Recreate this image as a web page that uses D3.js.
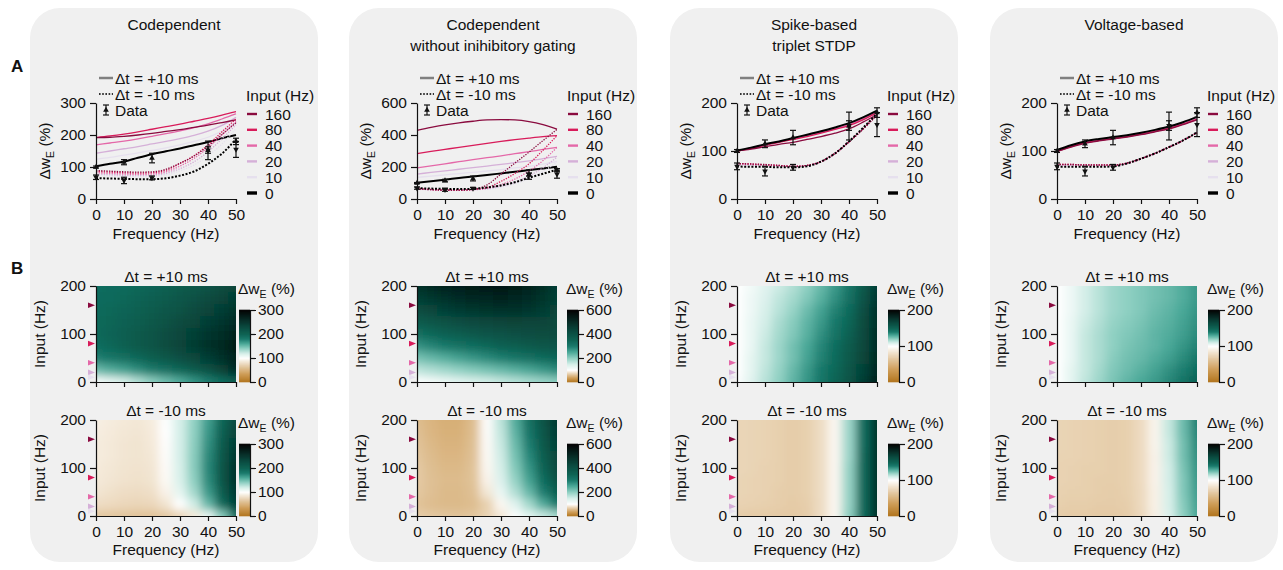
<!DOCTYPE html>
<html>
<head>
<meta charset="utf-8">
<script src="https://cdn.jsdelivr.net/npm/d3@7/dist/d3.min.js"></script>
<style>
  body { margin: 0; background: #fff; }
  svg text { font-family: "Liberation Sans", Arial, Helvetica, sans-serif; font-size: 15.5px; fill: #111; }
  .axis path, .axis line { stroke: #111; stroke-width: 1.2; }
</style>
</head>
<body>
<svg id="fig"></svg>
<script>
// x samples of every curve / heatmap column (Hz)
const freqs = [0, 5, 10, 15, 20, 25, 30, 35, 40, 45, 50];
// input rate of each curve row, legend order
const inputLevels = [160, 80, 40, 20, 10, 0];
// input rate of each heatmap row (bottom to top)
const heatInputs = [0, 25, 50, 75, 100, 125, 150, 175, 200];

// experimental data (same in every panel)
const dataFreqs = [0, 10, 20, 40, 50];
const dataPlus = [100, 115, 128, 152, 180];
const dataPlusErr = [3, 8, 15, 29, 10];
const dataMinus = [68, 58, 66, 153, 155];
const dataMinusErr = [7, 10, 6, 10, 25];

const panelTitles = [["Codependent"], ["Codependent", "without inihibitory gating"], ["Spike-based", "triplet STDP"], ["Voltage-based"]];
const yTicksA = [[0, 100, 200, 300], [0, 200, 400, 600], [0, 100, 200], [0, 100, 200]];
const cbarTicks = [[0, 100, 200, 300], [0, 200, 400, 600], [0, 100, 200], [0, 100, 200]];

// --- panel A curves, rows follow inputLevels ---
const codepPlus = [
  [192, 193, 196, 200, 205, 211, 217, 224, 231, 239, 247],
  [192, 197, 203, 210, 218, 226, 234, 243, 252, 262, 273],
  [169, 175, 181, 188, 196, 204, 213, 223, 235, 250, 266],
  [143, 150, 157, 164, 172, 180, 189, 199, 212, 230, 255],
  [124, 130, 137, 144, 152, 160, 169, 180, 193, 212, 240],
  [102, 110, 117, 129, 140, 149, 158, 168, 178, 190, 200]];
const codepMinus = [
  [89, 87, 85, 84, 85, 93, 112, 134, 165, 202, 238],
  [86, 84, 82, 81, 82, 90, 111, 135, 169, 210, 250],
  [82, 80, 78, 77, 78, 85, 103, 127, 160, 200, 242],
  [78, 76, 74, 73, 74, 80, 95, 116, 148, 188, 232],
  [74, 72, 70, 69, 70, 75, 88, 106, 135, 172, 220],
  [65, 64, 63, 62, 62, 65, 73, 86, 110, 142, 187]];
const noGatePlus = [
  [429, 447, 463, 476, 486, 494, 496, 494, 484, 465, 437],
  [283, 297, 310, 323, 335, 348, 360, 371, 381, 390, 396],
  [194, 207, 220, 233, 246, 258, 270, 283, 296, 310, 323],
  [156, 166, 176, 186, 196, 206, 216, 227, 238, 252, 267],
  [135, 143, 151, 159, 167, 175, 184, 194, 204, 218, 235],
  [101, 111, 121, 131, 141, 150, 160, 170, 181, 191, 202]];
const noGateMinus = [
  [64, 58, 54, 54, 60, 88, 156, 225, 293, 365, 435],
  [66, 60, 57, 57, 60, 72, 110, 160, 220, 305, 396],
  [64, 59, 56, 56, 59, 67, 90, 125, 175, 240, 323],
  [62, 58, 56, 56, 58, 64, 80, 105, 145, 195, 262],
  [60, 57, 55, 55, 57, 62, 74, 95, 128, 172, 230],
  [68, 65, 63, 62, 64, 72, 85, 105, 133, 158, 183]];
const tripletPlus = [
  [100, 104, 109, 114, 118, 124, 130, 137, 146, 160, 176],
  [100, 105, 112, 118, 124, 130, 137, 145, 153, 165, 180],
  [100, 106, 113, 119, 125, 132, 139, 146, 155, 167, 181],
  [100, 106, 113, 119, 126, 133, 140, 147, 156, 168, 182],
  [101, 107, 113, 120, 126, 133, 140, 148, 157, 169, 183],
  [101, 107, 114, 120, 127, 134, 141, 149, 158, 170, 184]];
const tripletMinus = [
  [74, 73, 72, 70, 68, 70, 78, 95, 119, 145, 175],
  [74, 73, 71, 70, 68, 70, 78, 95, 119, 146, 176],
  [73, 72, 71, 69, 68, 70, 78, 95, 119, 146, 176],
  [72, 71, 70, 69, 67, 69, 78, 95, 120, 147, 177],
  [71, 70, 69, 68, 67, 69, 78, 95, 120, 147, 177],
  [68, 67, 67, 66, 66, 68, 78, 95, 120, 148, 178]];
const voltagePlus = [
  [99, 108, 116, 121, 125, 129, 134, 140, 146, 155, 165],
  [99, 109, 117, 122, 126, 130, 135, 141, 147, 156, 166],
  [100, 110, 117, 122, 127, 131, 136, 141, 148, 157, 167],
  [100, 110, 118, 123, 127, 131, 136, 142, 148, 158, 168],
  [101, 111, 118, 123, 128, 132, 137, 143, 149, 158, 169],
  [102, 112, 120, 125, 129, 133, 138, 144, 151, 160, 171]];
const voltageMinus = [
  [72, 72, 71, 71, 71, 75, 84, 95, 108, 122, 138],
  [72, 72, 71, 71, 71, 75, 84, 95, 108, 122, 138],
  [71, 71, 71, 70, 70, 74, 84, 95, 108, 122, 138],
  [70, 70, 70, 70, 70, 74, 84, 95, 108, 122, 139],
  [69, 69, 69, 69, 69, 74, 84, 95, 108, 122, 139],
  [67, 67, 67, 67, 68, 74, 84, 95, 108, 122, 139]];

// --- panel B heatmaps, rows follow heatInputs ---
const codepHeatPlus = [
  [102, 110, 117, 129, 140, 149, 158, 168, 178, 190, 200],
  [150, 157, 163, 171, 179, 187, 196, 206, 218, 235, 258],
  [177, 182, 188, 195, 203, 211, 220, 229, 240, 253, 268],
  [190, 195, 201, 208, 216, 224, 233, 242, 251, 261, 273],
  [193, 197, 202, 209, 216, 223, 231, 239, 248, 257, 268],
  [193, 196, 200, 205, 211, 218, 225, 232, 240, 249, 258],
  [192, 194, 197, 201, 206, 212, 218, 225, 233, 241, 250],
  [191, 192, 194, 198, 202, 207, 213, 219, 226, 233, 242],
  [190, 191, 192, 194, 197, 201, 206, 211, 217, 224, 232]];
const codepHeatMinus = [
  [65, 64, 63, 62, 62, 65, 73, 86, 110, 142, 187],
  [79, 77, 75, 74, 75, 83, 100, 121, 152, 192, 236],
  [84, 81, 79, 78, 80, 92, 112, 134, 166, 205, 245],
  [86, 84, 82, 81, 83, 96, 117, 140, 172, 212, 252],
  [87, 85, 83, 82, 84, 97, 118, 142, 174, 213, 252],
  [88, 86, 84, 83, 85, 98, 119, 142, 173, 210, 247],
  [88, 86, 84, 83, 86, 99, 119, 141, 170, 206, 241],
  [89, 87, 85, 84, 87, 100, 119, 140, 167, 200, 233],
  [90, 88, 86, 85, 88, 101, 119, 139, 164, 196, 226]];
const noGateHeatPlus = [
  [101, 111, 121, 131, 141, 150, 160, 170, 181, 191, 202],
  [166, 176, 187, 198, 208, 218, 229, 240, 252, 266, 281],
  [217, 230, 243, 256, 269, 281, 293, 305, 317, 330, 341],
  [272, 286, 299, 312, 325, 337, 349, 360, 371, 380, 387],
  [320, 335, 349, 362, 374, 385, 394, 401, 406, 410, 412],
  [365, 381, 395, 408, 419, 428, 434, 436, 435, 432, 426],
  [411, 428, 444, 457, 467, 475, 478, 477, 470, 456, 434],
  [447, 466, 482, 495, 505, 512, 514, 510, 498, 476, 446],
  [480, 500, 515, 527, 535, 540, 540, 533, 518, 490, 450]];
const noGateHeatMinus = [
  [68, 65, 63, 62, 64, 72, 85, 105, 133, 158, 183],
  [62, 58, 56, 56, 58, 70, 95, 135, 185, 245, 300],
  [65, 60, 56, 56, 60, 85, 125, 175, 230, 295, 360],
  [66, 60, 57, 57, 61, 92, 140, 195, 255, 325, 395],
  [66, 59, 55, 55, 61, 95, 148, 208, 270, 345, 415],
  [64, 57, 53, 53, 60, 96, 153, 218, 283, 358, 428],
  [62, 55, 51, 51, 59, 97, 158, 226, 295, 370, 440],
  [60, 53, 49, 49, 58, 98, 163, 236, 306, 380, 450],
  [58, 52, 48, 48, 57, 99, 168, 244, 316, 390, 460]];
const tripletHeatPlus = [
  [101, 107, 114, 120, 127, 134, 141, 149, 158, 170, 184],
  [100, 106, 113, 119, 126, 133, 140, 147, 156, 168, 182],
  [100, 106, 112, 118, 124, 131, 138, 146, 154, 166, 180],
  [100, 105, 112, 118, 124, 130, 137, 145, 153, 165, 179],
  [100, 105, 111, 117, 122, 128, 135, 142, 150, 163, 178],
  [100, 105, 110, 116, 121, 127, 133, 140, 148, 162, 177],
  [100, 104, 109, 114, 119, 125, 131, 138, 146, 160, 176],
  [100, 104, 108, 113, 117, 122, 128, 135, 143, 157, 173],
  [100, 103, 107, 111, 115, 120, 126, 133, 141, 154, 170]];
const tripletHeatMinus = [
  [68, 67, 67, 66, 66, 68, 78, 95, 120, 146, 176],
  [72, 71, 70, 69, 67, 69, 78, 95, 119, 146, 176],
  [73, 72, 71, 69, 68, 70, 78, 95, 119, 146, 176],
  [73, 72, 71, 70, 68, 70, 78, 95, 119, 146, 176],
  [74, 73, 71, 70, 68, 70, 78, 95, 119, 146, 176],
  [74, 73, 72, 70, 68, 70, 78, 95, 118, 146, 176],
  [74, 73, 72, 70, 68, 70, 78, 95, 118, 145, 175],
  [74, 73, 72, 70, 68, 70, 78, 95, 118, 145, 175],
  [74, 73, 72, 70, 68, 70, 78, 95, 118, 145, 175]];
const voltageHeatPlus = [
  [100, 106, 113, 118, 123, 127, 130, 133, 137, 142, 150],
  [100, 106, 112, 117, 122, 125, 128, 131, 135, 139, 145],
  [100, 105, 112, 116, 121, 124, 126, 129, 132, 136, 141],
  [100, 105, 112, 116, 120, 123, 125, 127, 130, 134, 138],
  [100, 105, 112, 116, 120, 122, 124, 127, 129, 132, 136],
  [100, 105, 111, 115, 119, 121, 123, 126, 128, 131, 135],
  [100, 104, 110, 114, 118, 120, 122, 125, 127, 130, 134],
  [100, 104, 110, 114, 118, 120, 122, 124, 126, 129, 133],
  [100, 104, 110, 114, 118, 120, 122, 124, 126, 129, 133]];
const voltageHeatMinus = [
  [68, 67, 67, 66, 66, 68, 75, 90, 108, 120, 130],
  [70, 69, 69, 68, 68, 69, 76, 91, 109, 121, 131],
  [71, 70, 70, 69, 68, 70, 76, 91, 109, 122, 132],
  [72, 71, 70, 69, 69, 70, 77, 92, 110, 122, 133],
  [72, 71, 70, 70, 69, 70, 77, 92, 110, 123, 134],
  [72, 72, 71, 70, 69, 70, 77, 92, 111, 124, 135],
  [73, 72, 71, 70, 69, 70, 77, 93, 111, 124, 136],
  [73, 72, 71, 70, 69, 70, 77, 93, 112, 125, 137],
  [73, 72, 71, 70, 69, 70, 77, 93, 112, 125, 138]];

// styles
const inputColors = ["#8a0b3f", "#d81b5a", "#e468a8", "#d5b0d8", "#e6e0ee", "#000000"];
const panelFill = "#f0f0f0";

const models = [
  {plus: codepPlus, minus: codepMinus, hp: codepHeatPlus, hm: codepHeatMinus},
  {plus: noGatePlus, minus: noGateMinus, hp: noGateHeatPlus, hm: noGateHeatMinus},
  {plus: tripletPlus, minus: tripletMinus, hp: tripletHeatPlus, hm: tripletHeatMinus},
  {plus: voltagePlus, minus: voltageMinus, hp: voltageHeatPlus, hm: voltageHeatMinus}
];

// layout
const W = 1283, H = 570;
const panelX = [30, 349, 670, 990];
const plotX = [96, 417, 737, 1057];
const cbarOff = [143, 150, 151, 151];
const plotW = 140, aTop = 103, aBot = 199;
const heatTops = [286, 420], heatH = 96;

const svg = d3.select("#fig").attr("width", W).attr("height", H);
const defs = svg.append("defs");
defs.append("filter").attr("id", "soft")
  .append("feGaussianBlur").attr("stdDeviation", "5 4.2");

function heatColor(max) {
  const lo = d3.scaleLinear().domain([0, 35, 60, 80, 100])
    .range(["#b0721a", "#cf9d57", "#dfc094", "#efdfc8", "#ffffff"]).clamp(true);
  const stops = [0, 0.1, 0.2, 0.3, 0.4, 0.5, 0.65, 0.8, 1];
  const hi = d3.scaleLinear().domain(stops.map(t => 100 + t * (max - 100)))
    .range(["#ffffff", "#d4eee8", "#8fd0c2", "#4aa898", "#17786a", "#0b6152", "#07483d", "#042a24", "#000000"])
    .clamp(true);
  return v => v <= 100 ? lo(v) : hi(v);
}

function dwLabel(t) {
  t.append("tspan").text("Δw");
  t.append("tspan").text("E").attr("font-size", "10.5px").attr("dy", 4);
  t.append("tspan").text(" (%)").attr("dy", -4);
}

function styleAxis(g) {
  g.attr("class", "axis").attr("font-size", null).attr("font-family", null);
}

// panel backgrounds and titles
panelX.forEach((px, i) => {
  svg.append("rect").attr("x", px).attr("y", 8).attr("width", 288).attr("height", 554)
    .attr("rx", 30).attr("fill", panelFill);
  panelTitles[i].forEach((t, k) => {
    svg.append("text").attr("x", px + 144).attr("y", 30 + k * 21)
      .attr("text-anchor", "middle").text(t);
  });
});

svg.append("text").attr("x", 11).attr("y", 72).attr("font-weight", "bold").style("font-size", "17px").text("A");
svg.append("text").attr("x", 11).attr("y", 274).attr("font-weight", "bold").style("font-size", "17px").text("B");

const drawOrder = [4, 3, 2, 1, 0, 5];

models.forEach((m, i) => {
  const x0 = plotX[i];
  const yMax = d3.max(yTicksA[i]);
  const x = d3.scaleLinear().domain([0, 50]).range([x0, x0 + plotW]);
  const y = d3.scaleLinear().domain([0, yMax]).range([aBot, aTop]);
  const g = svg.append("g");
  const line = d3.line().x((d, k) => x(freqs[k])).y(d => y(d)).curve(d3.curveMonotoneX);

  g.selectAll("path.plus").data(drawOrder).join("path").attr("class", "plus")
    .attr("d", r => line(m.plus[r])).attr("fill", "none")
    .attr("stroke", r => inputColors[r]).attr("stroke-width", r => r === 5 ? 2 : 1.3);
  g.selectAll("path.minus").data(drawOrder).join("path").attr("class", "minus")
    .attr("d", r => line(m.minus[r])).attr("fill", "none")
    .attr("stroke", r => inputColors[r]).attr("stroke-width", r => r === 5 ? 2 : 1.3)
    .attr("stroke-dasharray", r => r === 5 ? "2 1.6" : "1.3 1.3");

  // error bars
  [[dataPlus, dataPlusErr, 0], [dataMinus, dataMinusErr, 180]].forEach(([vals, errs, rot]) => {
    const eb = g.append("g").selectAll("g").data(dataFreqs).join("g")
      .attr("transform", (f, k) => `translate(${x(f)},0)`);
    eb.append("line").attr("y1", (f, k) => y(vals[k] - errs[k])).attr("y2", (f, k) => y(vals[k] + errs[k]))
      .attr("stroke", "#111").attr("stroke-width", 1.2);
    eb.append("line").attr("x1", -3).attr("x2", 3).attr("y1", (f, k) => y(vals[k] + errs[k])).attr("y2", (f, k) => y(vals[k] + errs[k]))
      .attr("stroke", "#111").attr("stroke-width", 1.2);
    eb.append("line").attr("x1", -3).attr("x2", 3).attr("y1", (f, k) => y(vals[k] - errs[k])).attr("y2", (f, k) => y(vals[k] - errs[k]))
      .attr("stroke", "#111").attr("stroke-width", 1.2);
    eb.append("path").attr("d", d3.symbol(d3.symbolTriangle, 14))
      .attr("transform", (f, k) => `translate(0,${y(vals[k])}) rotate(${rot})`).attr("fill", "#111");
  });

  // axes
  g.append("g").attr("transform", `translate(0,${aBot})`)
    .call(d3.axisBottom(x).tickValues([0, 10, 20, 30, 40, 50]).tickSize(5).tickPadding(5).tickSizeOuter(0))
    .call(styleAxis);
  g.append("g").attr("transform", `translate(${x0},0)`)
    .call(d3.axisLeft(y).tickValues(yTicksA[i]).tickSize(6).tickPadding(4).tickSizeOuter(0))
    .call(styleAxis);
  g.append("text").attr("x", x0 + 70).attr("y", 239).attr("text-anchor", "middle").text("Frequency (Hz)");
  g.append("text").attr("transform", `translate(${x0 - 46},151) rotate(-90)`)
    .attr("text-anchor", "middle").call(dwLabel);

  // dt legend
  const lg = g.append("g");
  lg.append("line").attr("x1", x0 + 3).attr("x2", x0 + 17).attr("y1", 78).attr("y2", 78)
    .attr("stroke", "#808080").attr("stroke-width", 2.5);
  lg.append("text").attr("x", x0 + 19).attr("y", 84).text("Δt = +10 ms");
  lg.append("line").attr("x1", x0 + 3).attr("x2", x0 + 17).attr("y1", 94).attr("y2", 94)
    .attr("stroke", "#333").attr("stroke-width", 2).attr("stroke-dasharray", "1.6 1.6");
  lg.append("text").attr("x", x0 + 19).attr("y", 99.5).text("Δt = -10 ms");
  lg.append("line").attr("x1", x0 + 10).attr("x2", x0 + 10).attr("y1", 105).attr("y2", 115).attr("stroke", "#111").attr("stroke-width", 1.2);
  lg.append("line").attr("x1", x0 + 7).attr("x2", x0 + 13).attr("y1", 105).attr("y2", 105).attr("stroke", "#111").attr("stroke-width", 1.2);
  lg.append("line").attr("x1", x0 + 7).attr("x2", x0 + 13).attr("y1", 115).attr("y2", 115).attr("stroke", "#111").attr("stroke-width", 1.2);
  lg.append("path").attr("d", d3.symbol(d3.symbolTriangle, 14)).attr("transform", `translate(${x0 + 10},110)`).attr("fill", "#111");
  lg.append("text").attr("x", x0 + 19).attr("y", 115.5).text("Data");

  // input legend
  lg.append("text").attr("x", x0 + 150).attr("y", 100.5).text("Input (Hz)");
  inputLevels.forEach((lev, k) => {
    const yy = 114 + k * 15.8;
    lg.append("line").attr("x1", x0 + 151).attr("x2", x0 + 161).attr("y1", yy).attr("y2", yy)
      .attr("stroke", inputColors[k]).attr("stroke-width", k === 5 ? 3.4 : 2.4);
    lg.append("text").attr("x", x0 + 169).attr("y", yy + 5.5).text(lev);
  });

  // heatmaps
  [[m.hp, "Δt = +10 ms"], [m.hm, "Δt = -10 ms"]].forEach(([grid, title], h) => {
    const top = heatTops[h];
    const max = d3.max(cbarTicks[i]);
    const color = heatColor(max);
    const hx = d3.scaleLinear().domain([0, 50]).range([x0, x0 + plotW]);
    const hy = d3.scaleLinear().domain([0, 200]).range([top + heatH, top]);
    const cells = [];
    grid.forEach((row, r) => row.forEach((v, c) => cells.push({f: freqs[c], inp: heatInputs[r], v})));
    const clipId = `clip${i}${h}`;
    defs.append("clipPath").attr("id", clipId).append("rect")
      .attr("x", x0).attr("y", top).attr("width", plotW).attr("height", heatH);
    const left = d => d.f === 0 ? hx(0) - 12 : hx(d.f - 2.5) - 0.3;
    const right = d => d.f === 50 ? hx(50) + 12 : hx(d.f + 2.5) + 0.3;
    const upper = d => d.inp === 200 ? hy(200) - 12 : hy(d.inp + 12.5) - 0.3;
    const lower = d => d.inp === 0 ? hy(0) + 12 : hy(d.inp - 12.5) + 0.3;
    const hg = svg.append("g");
    hg.append("g").attr("clip-path", `url(#${clipId})`).append("g").attr("filter", "url(#soft)")
      .selectAll("rect").data(cells).join("rect")
      .attr("x", left).attr("width", d => right(d) - left(d))
      .attr("y", upper).attr("height", d => lower(d) - upper(d))
      .attr("fill", d => color(d.v));

    hg.append("g").attr("transform", `translate(0,${top + heatH})`)
      .call(d3.axisBottom(hx).tickValues([0, 10, 20, 30, 40, 50]).tickSize(5).tickPadding(5).tickSizeOuter(0)
        .tickFormat(h === 1 ? d3.format("d") : () => ""))
      .call(styleAxis);
    hg.append("g").attr("transform", `translate(${x0},0)`)
      .call(d3.axisLeft(hy).tickValues([0, 100, 200]).tickSize(6).tickPadding(4).tickSizeOuter(0))
      .call(styleAxis);
    hg.append("text").attr("x", x0 + 70).attr("y", top - 4).attr("text-anchor", "middle").text(title);
    hg.append("text").attr("transform", `translate(${x0 - 51},${top + heatH / 2}) rotate(-90)`)
      .attr("text-anchor", "middle").text("Input (Hz)");
    if (h === 1) {
      hg.append("text").attr("x", x0 + 70).attr("y", 555).attr("text-anchor", "middle").text("Frequency (Hz)");
    }
    // input arrows
    hg.selectAll("path.arrow").data(inputLevels.slice(0, 5)).join("path").attr("class", "arrow")
      .attr("d", "M-8,-2.8L-1,0L-8,2.8Z")
      .attr("transform", lev => `translate(${x0},${hy(lev)})`)
      .attr("fill", (lev, k) => inputColors[k]);

    // colourbar
    const cbx = x0 + cbarOff[i];
    const cy = d3.scaleLinear().domain([0, max]).range([top + heatH, top + 24]);
    const step = max / 144;
    hg.append("g").selectAll("rect").data(d3.range(0, max, step)).join("rect")
      .attr("x", cbx).attr("width", 11)
      .attr("y", v => cy(v + step) - 0.3).attr("height", v => cy(v) - cy(v + step) + 0.6)
      .attr("fill", v => color(v + step / 2));
    hg.append("g").attr("transform", `translate(${cbx + 11},0)`)
      .call(d3.axisRight(cy).tickValues(cbarTicks[i]).tickSize(6).tickPadding(2).tickSizeOuter(0))
      .call(styleAxis);
    hg.append("text").attr("x", cbx - 1).attr("y", top + 8).call(dwLabel);
  });
});
</script>
</body>
</html>
